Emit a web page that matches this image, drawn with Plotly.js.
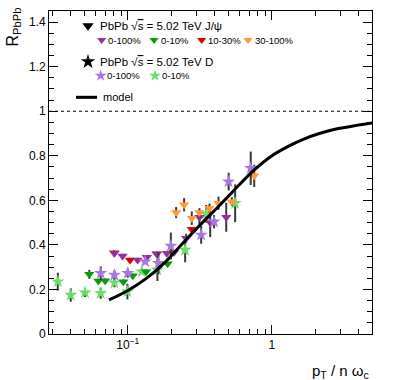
<!DOCTYPE html>
<html>
<head>
<meta charset="utf-8">
<script src="https://cdn.plot.ly/plotly-3.0.1.min.js"></script>
<style>html,body{margin:0;padding:0;background:#fff;}#chart{width:398px;height:380px;}</style>
</head>
<body>
<div id="chart"></div>
<script>
// ---- data (x = pT / n omega_c, y = R_PbPb) ----
const modelX = [0.0741,0.0989,0.136,0.182,0.238,0.318,0.438,0.574,0.741,0.973,1.277,1.65,2.16,2.84,3.67,4.98];
const modelY = [0.153,0.193,0.252,0.323,0.404,0.490,0.580,0.660,0.732,0.795,0.840,0.874,0.901,0.921,0.934,0.947];

const jpsi0_100X = [0.0807,0.092,0.117,0.1355,0.159,0.1866,0.2097,0.254,0.314,0.373,0.482];
const jpsi0_100Y = [0.362,0.350,0.332,0.345,0.360,0.363,0.367,0.430,0.524,0.500,0.524];
const jpsi0_100E = [0.01,0.01,0.01,0.01,0.01,0.01,0.01,0.02,0.03,0.065,0.065];

const jpsi0_10X = [0.0541,0.0625,0.0696,0.0932,0.1083,0.134,0.189];
const jpsi0_10Y = [0.268,0.238,0.239,0.235,0.261,0.280,0.315];
const jpsi0_10E = [0.02,0.01,0.01,0.01,0.01,0.01,0.01];

const jpsi10_30X = [0.0807,0.1037,0.159,0.278];
const jpsi10_30Y = [0.365,0.332,0.359,0.470];
const jpsi10_30E = [0.01,0.01,0.01,0.01];

const jpsi30_100X = [0.2165,0.246,0.278,0.314,0.369,0.426,0.527,0.754];
const jpsi30_100Y = [0.545,0.580,0.520,0.545,0.565,0.587,0.594,0.710];
const jpsi30_100E = [0.025,0.03,0.03,0.02,0.02,0.03,0.02,0.05];

const d0_100X = [0.0649,0.0807,0.1,0.132,0.163,0.199,0.323,0.397,0.501,0.713];
const d0_100Y = [0.273,0.265,0.273,0.325,0.318,0.395,0.445,0.504,0.684,0.744];
const d0_100E = [0.03,0.02,0.02,0.01,0.05,0.06,0.04,0.03,0.04,0.075];

const d0_10X = [0.0327,0.0402,0.0505,0.0649,0.0807,0.0994,0.125,0.1605,0.25,0.35,0.556];
const d0_10Y = [0.235,0.175,0.186,0.183,0.230,0.190,0.280,0.288,0.377,0.539,0.587];
const d0_10E = [0.04,0.03,0.02,0.025,0.02,0.035,0.01,0.05,0.055,0.04,0.085];

const xTickVals = [0.1, 1];
const xTickText = ['10<sup>\u22121</sup>', '1'];
const xMinorVals = [0.03,0.04,0.05,0.06,0.07,0.08,0.09,0.2,0.3,0.4,0.5,0.6,0.7,0.8,0.9,2,3,4];

// ---- colours ----
const cPurpleTri = '#942f9c', cGreenTri = '#0a9a0a', cRed = '#dd0000', cOrange = '#ff9933';
const cPurpleStar = '#a878e0', cGreenStar = '#6ddc6d';
const errCol = '#3a3a3a';
const FONT = 'Liberation Sans, Arial, Helvetica, sans-serif';

function pts(x, y, e, sym, col, size) {
  return {
    type: 'scatter', mode: 'markers', x: x, y: y, xaxis: 'x', yaxis: 'y',
    marker: {symbol: sym, color: col, size: size, line: {width: 0}},
    error_y: {type: 'data', array: e, visible: true, color: errCol, thickness: 2, width: 0},
    showlegend: false, hoverinfo: 'skip', cliponaxis: false
  };
}

const traces = [
  pts(d0_10X, d0_10Y, d0_10E, 'star', cGreenStar, 10),
  pts(jpsi0_10X, jpsi0_10Y, jpsi0_10E, 'triangle-down', cGreenTri, 9),
  pts(jpsi10_30X, jpsi10_30Y, jpsi10_30E, 'triangle-down', cRed, 9),
  pts(jpsi0_100X, jpsi0_100Y, jpsi0_100E, 'triangle-down', cPurpleTri, 9),
  pts(jpsi30_100X, jpsi30_100Y, jpsi30_100E, 'triangle-down', cOrange, 9),
  pts(d0_100X, d0_100Y, d0_100E, 'star', cPurpleStar, 10),
  {type: 'scatter', mode: 'lines', x: modelX, y: modelY, line: {color: '#000', width: 3, shape: 'spline', smoothing: 0.8},
   showlegend: false, hoverinfo: 'skip'}
];

// ---- legend drawn on a pixel overlay axis (x2/y2) ----
const legSymX = [88, 101.7, 154, 201.7, 248, 88, 100.7, 155];
const legSymY = [25.7, 40, 40, 40, 40, 61.7, 75.7, 75.7];
const legSym = ['triangle-down','triangle-down','triangle-down','triangle-down','triangle-down','star','star','star'];
const legCol = ['#000000', cPurpleTri, cGreenTri, cRed, cOrange, '#000000', cPurpleStar, cGreenStar];
const legSize = [10, 8, 8, 8, 8, 11, 9, 9];
traces.push({type: 'scatter', mode: 'markers', x: legSymX, y: legSymY, xaxis: 'x2', yaxis: 'y2',
  marker: {symbol: legSym, color: legCol, size: legSize, opacity: 1, line: {width: 0}}, showlegend: false, hoverinfo: 'skip', cliponaxis: false});
traces.push({type: 'scatter', mode: 'lines', x: [76, 97], y: [97.3, 97.3], xaxis: 'x2', yaxis: 'y2',
  line: {color: '#000', width: 3}, showlegend: false, hoverinfo: 'skip'});

function txt(x, y, t, size, extra) {
  return Object.assign({xref: 'x2', yref: 'y2', x: x, y: y, text: t, showarrow: false,
    xanchor: 'left', yanchor: 'middle', font: {family: FONT, size: size, color: '#000'}}, extra || {});
}
// paper coordinates from pixel positions (plot area 49..372 x 11..334)
function px2paperX(p) { return (p - 49) / 323; }
function px2paperY(p) { return (334 - p) / 323; }

const sqrtS = '\u221A<span style="text-decoration:overline">s</span>';
const annotations = [
  txt(98, 25.7, 'PbPb ' + sqrtS + ' = 5.02 TeV J/\u03C8', 11.5),
  txt(106, 40, '0-100%', 9.5), txt(159, 40, '0-10%', 9.5), txt(206, 40, '10-30%', 9.5), txt(253, 40, '30-100%', 9.5),
  txt(98, 61.7, 'PbPb ' + sqrtS + ' = 5.02 TeV D', 11.5),
  txt(105, 75.7, '0-100%', 9.5), txt(160, 75.7, '0-10%', 9.5),
  txt(101, 97.3, 'model', 11),
  {xref: 'paper', yref: 'paper', x: px2paperX(371), y: px2paperY(371), text: 'p<sub>T</sub> / n \u03C9<sub>c</sub>',
   showarrow: false, xanchor: 'right', yanchor: 'middle', font: {family: FONT, size: 15, color: '#000'}},
  {xref: 'paper', yref: 'paper', x: px2paperX(13), y: px2paperY(6), text: 'R<sub>PbPb</sub>', textangle: -90,
   showarrow: false, xanchor: 'center', yanchor: 'top', font: {family: FONT, size: 16, color: '#000'}}
];

const layout = {
  width: 398, height: 380,
  margin: {l: 49, r: 26, t: 11, b: 46, pad: 0},
  paper_bgcolor: '#fff', plot_bgcolor: '#fff',
  font: {family: FONT, size: 12, color: '#000'},
  showlegend: false,
  xaxis: {
    type: 'log', range: [Math.log10(0.0284), Math.log10(4.95)],
    tickmode: 'array', tickvals: xTickVals, ticktext: xTickText,
    ticks: 'inside', ticklen: 9, tickwidth: 1, tickcolor: '#000',
    minor: {tickmode: 'array', tickvals: xMinorVals, ticks: 'inside', ticklen: 5, tickwidth: 1, tickcolor: '#000', showgrid: false},
    showline: true, linecolor: '#000', linewidth: 1, mirror: 'ticks',
    showgrid: false, zeroline: false, tickfont: {family: FONT, size: 12}, fixedrange: true
  },
  yaxis: {
    range: [0, 1.45], tickmode: 'linear', tick0: 0, dtick: 0.2,
    ticks: 'inside', ticklen: 9, tickwidth: 1, tickcolor: '#000',
    minor: {dtick: 0.05, ticks: 'inside', ticklen: 5, tickwidth: 1, tickcolor: '#000', showgrid: false},
    showline: true, linecolor: '#000', linewidth: 1, mirror: 'ticks',
    showgrid: false, zeroline: false, tickfont: {family: FONT, size: 12}, fixedrange: true
  },
  xaxis2: {overlaying: 'x', range: [49, 372], visible: false, fixedrange: true},
  yaxis2: {overlaying: 'y', range: [334, 11], visible: false, fixedrange: true},
  shapes: [
    {type: 'line', xref: 'paper', yref: 'y', x0: 0, x1: 1, y0: 1, y1: 1, line: {color: '#000', width: 1, dash: 'dot'}}
  ],
  annotations: annotations
};

Plotly.newPlot('chart', traces, layout, {staticPlot: true, displayModeBar: false});
</script>
</body>
</html>
